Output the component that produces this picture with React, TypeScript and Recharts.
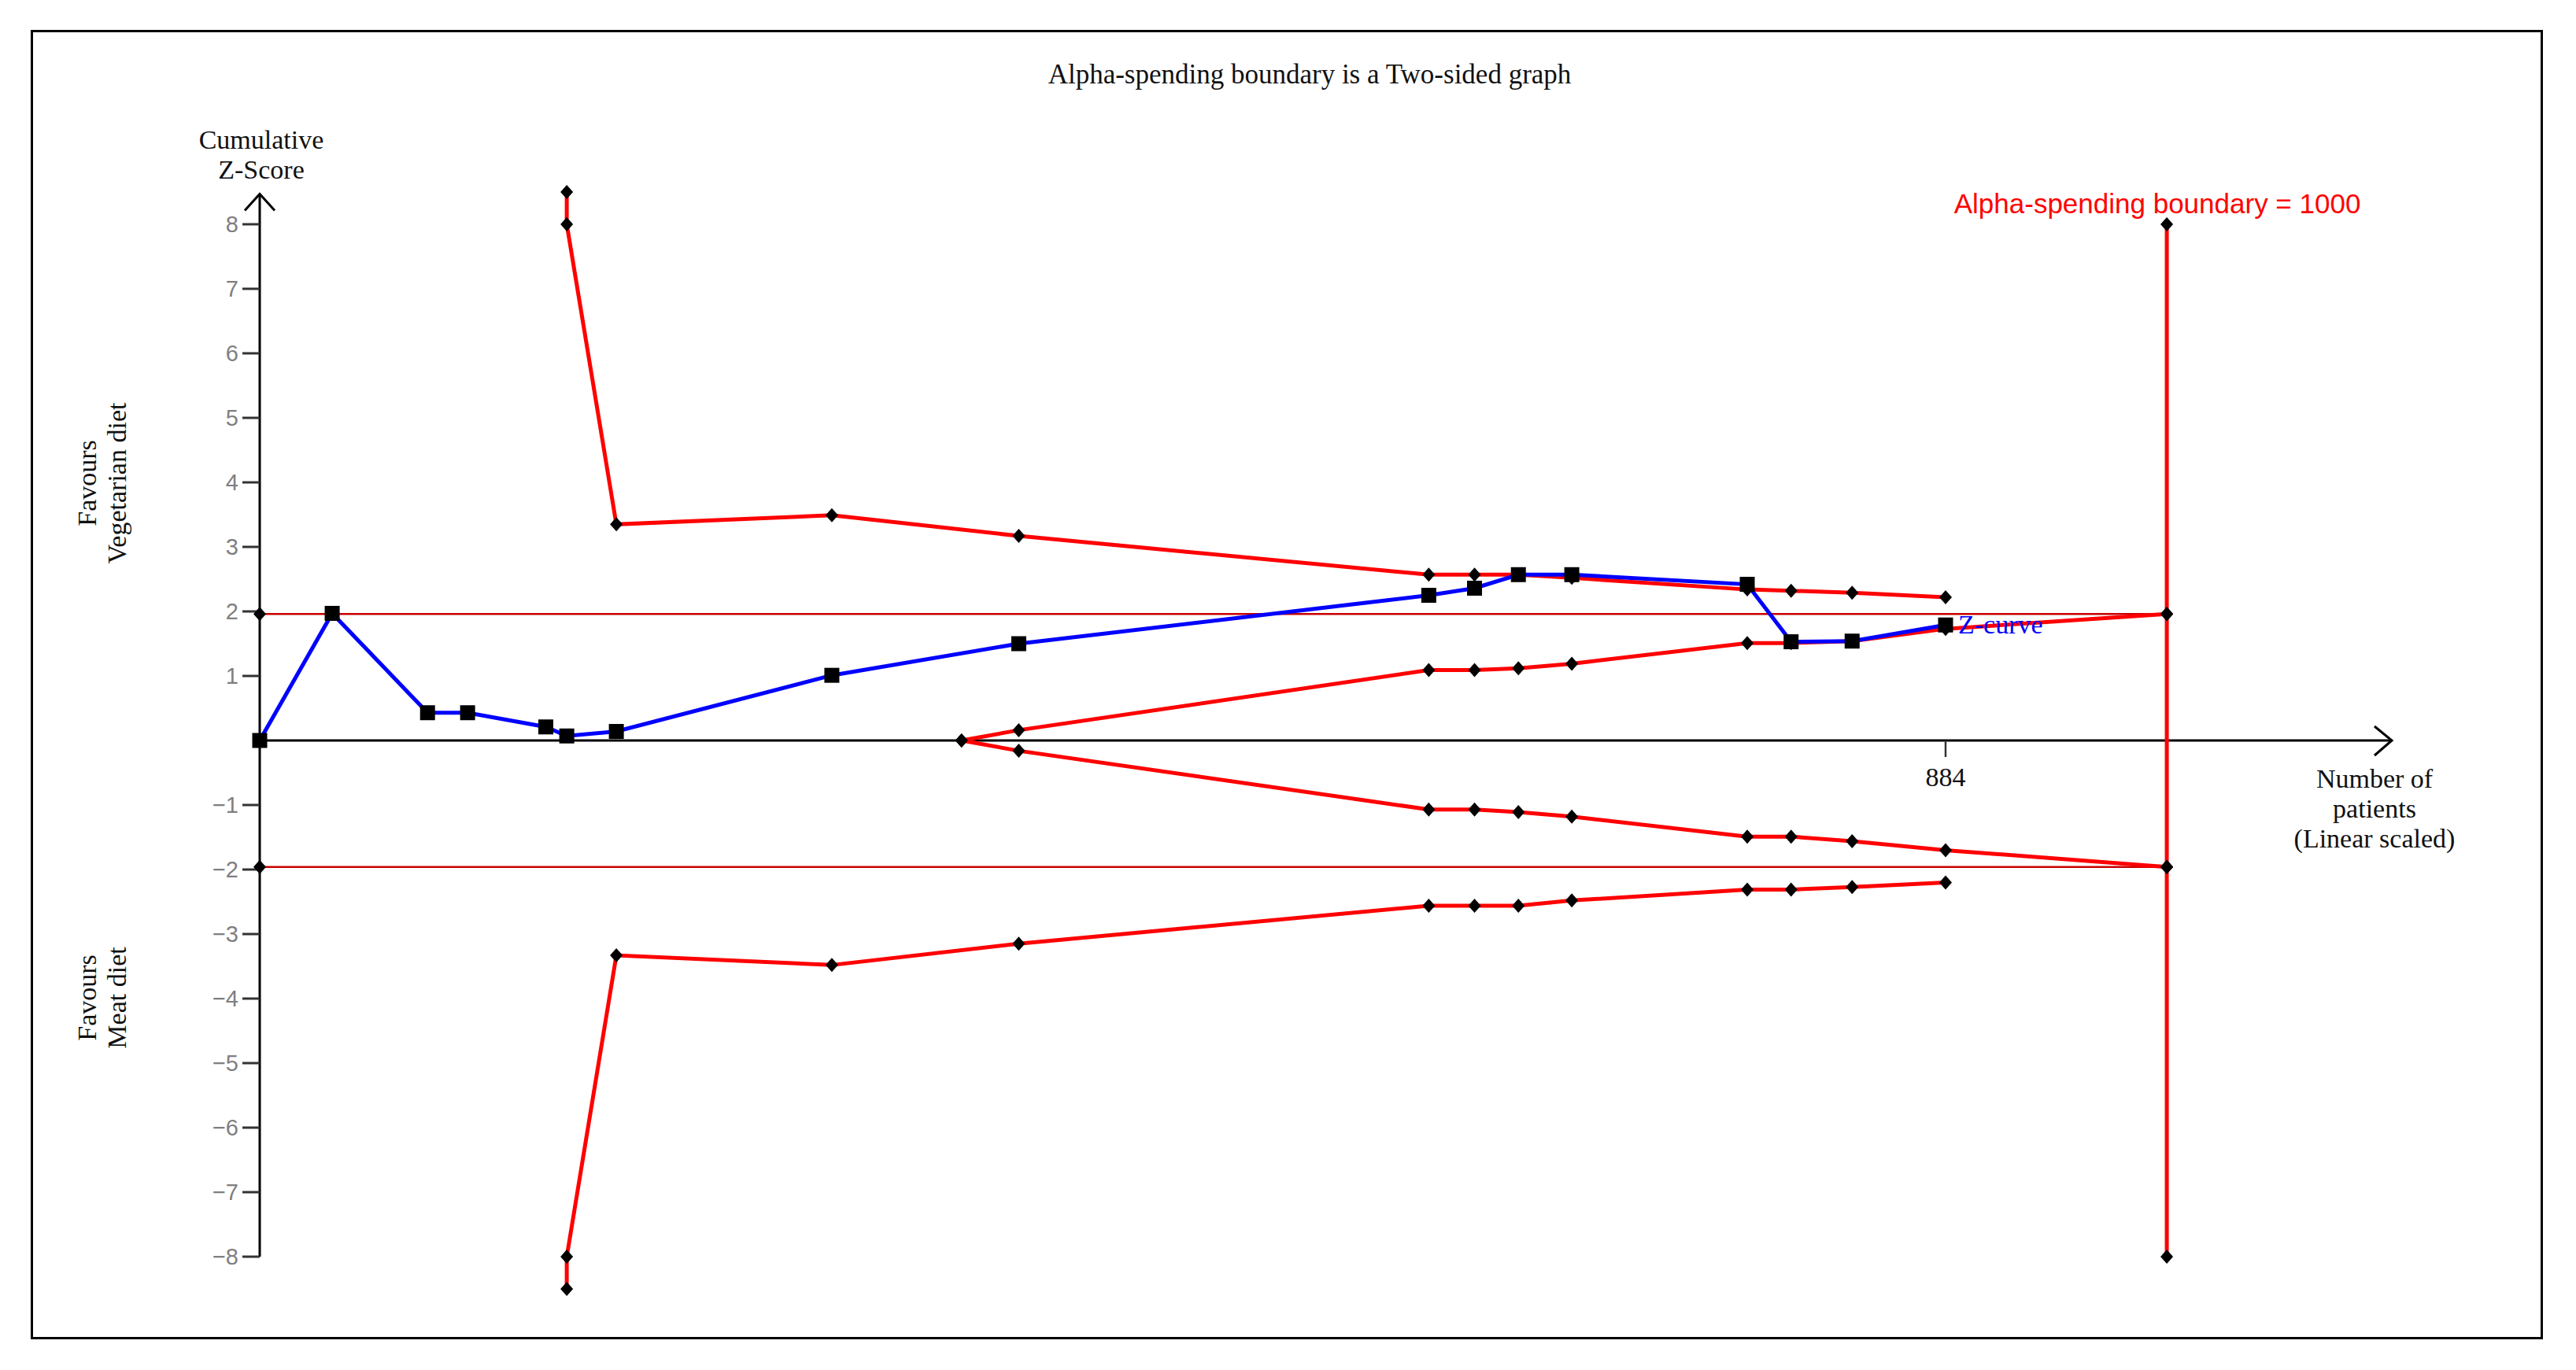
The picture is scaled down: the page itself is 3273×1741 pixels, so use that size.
import { LineChart, Line, XAxis, YAxis, ReferenceLine, ReferenceDot } from 'recharts';

// cumulative number of patients at each trial, and the cumulative Z-score there
const trialN = [0, 38, 88, 109, 150, 161, 187, 300, 398, 613, 637, 660, 688, 780, 803, 835, 884];
const zCurve = [0, 1.97, 0.43, 0.43, 0.21, 0.07, 0.14, 1.01, 1.5, 2.25, 2.36, 2.57, 2.57, 2.42, 1.53, 1.54, 1.79];

// alpha-spending monitoring boundaries (two-sided)
const alphaN = [161, 161, 187, 300, 398, 613, 637, 660, 688, 780, 803, 835, 884];
const alphaUpper = [8.5, 8.0, 3.35, 3.49, 3.17, 2.57, 2.57, 2.57, 2.52, 2.34, 2.32, 2.29, 2.22];
const alphaLower = [-8.5, -8.0, -3.33, -3.48, -3.15, -2.56, -2.56, -2.56, -2.48, -2.31, -2.31, -2.27, -2.2];

// inner wedge boundaries
const innerN = [368, 398, 613, 637, 660, 688, 780, 803, 835, 884, 1000];
const innerUpper = [0, 0.16, 1.09, 1.09, 1.12, 1.19, 1.51, 1.51, 1.54, 1.73, 1.96];
const innerLower = [0, -0.16, -1.07, -1.07, -1.11, -1.18, -1.49, -1.49, -1.56, -1.7, -1.96];

// conventional boundaries
const conventionalN = [0, 1000];
const conventionalZ = 1.96;

// required information size line
const risN = 1000;
const risZ = [8, 1.96, -1.96, -8];

const yTicks = [-8, -7, -6, -5, -4, -3, -2, -1, 1, 2, 3, 4, 5, 6, 7, 8];
const xTicks = [884];
const xMax = 1118;
const yAxisTop = 8.47;

const toPoints = (xs: number[], ys: number[]) => xs.map((x, i) => ({ x, z: ys[i] }));

const zData = toPoints(trialN, zCurve);
const upperData = toPoints(alphaN, alphaUpper);
const lowerData = toPoints(alphaN, alphaLower);
const innerUpperData = toPoints(innerN, innerUpper);
const innerLowerData = toPoints(innerN, innerLower);
const convUpperData = conventionalN.map((x) => ({ x, z: conventionalZ }));
const convLowerData = conventionalN.map((x) => ({ x, z: -conventionalZ }));
const risData = risZ.map((z) => ({ x: risN, z }));

const serif = '"Liberation Serif", "Times New Roman", serif';
const sans = '"Liberation Sans", Arial, sans-serif';

const diamondPath = (cx: number, cy: number) =>
  `M${cx},${cy - 9}L${cx + 8},${cy}L${cx},${cy + 9}L${cx - 8},${cy}Z`;

const Diamond = (props: any) => {
  const { cx, cy, index } = props;
  if (cx == null || cy == null) return null;
  return <path key={`diamond-${index}`} d={diamondPath(cx, cy)} fill="#000" />;
};

const ZSquare = (props: any) => {
  const { cx, cy, index } = props;
  if (cx == null || cy == null) return null;
  return (
    <g key={`square-${index}`}>
      <rect x={cx - 9.5} y={cy - 9.5} width={19} height={19} fill="#000" />
      {index === zCurve.length - 1 && (
        <text x={cx + 16} y={cy + 11} fill="#0000ff" fontFamily={serif} fontSize={34}>
          Z-curve
        </text>
      )}
    </g>
  );
};

const RisDot = (props: any) => {
  const { cx, cy, index } = props;
  if (cx == null || cy == null) return null;
  return (
    <g key={`ris-${index}`}>
      <path d={diamondPath(cx, cy)} fill="#000" />
      {index === 0 && (
        <text x={cx - 12} y={cy - 14} textAnchor="middle" fill="#ff0000" fontFamily={sans} fontSize={35}>
          Alpha-spending boundary = {risN}
        </text>
      )}
    </g>
  );
};

const XAxisArrow = (props: any) => {
  const { x1, y1, x2, y2 } = props;
  return (
    <g>
      <line x1={x1} y1={y1} x2={x2} y2={y2} stroke="#000" strokeWidth={3} />
      <polyline
        points={`${x2 - 22},${y2 - 18} ${x2},${y2} ${x2 - 22},${y2 + 19}`}
        fill="none"
        stroke="#000"
        strokeWidth={3}
      />
    </g>
  );
};

const YAxisArrow = (props: any) => {
  const { x1, y1, x2, y2 } = props;
  const topY = Math.min(y1, y2);
  return (
    <g>
      <line x1={x1} y1={y1} x2={x2} y2={y2} stroke="#000" strokeWidth={3} />
      <polyline
        points={`${x2 - 19},${topY + 21} ${x2},${topY} ${x2 + 19},${topY + 21}`}
        fill="none"
        stroke="#000"
        strokeWidth={3}
      />
    </g>
  );
};

const XTickMark = (props: any) => {
  const { cx, cy, value } = props;
  return (
    <g>
      <line x1={cx} y1={cy} x2={cx} y2={cy + 21} stroke="#333" strokeWidth={2.5} />
      <text x={cx} y={cy + 58} textAnchor="middle" fill="#111" fontFamily={serif} fontSize={34}>
        {value}
      </text>
    </g>
  );
};

const formatTick = (v: number) => (v < 0 ? `\u2212${-v}` : `${v}`);

export default function App() {
  return (
    <div style={{ position: 'absolute', left: 0, top: 0, width: 3273, height: 1741, background: '#fff' }}>
      <div
        style={{
          position: 'absolute',
          left: 39,
          top: 38,
          width: 3192,
          height: 1664,
          border: '3px solid #000',
          boxSizing: 'border-box',
        }}
      />
      <div style={{ position: 'absolute', left: 0, top: 0 }}>
        <LineChart width={3273} height={1741} margin={{ top: 203, right: 234, bottom: 62, left: 230 }}>
          <XAxis type="number" dataKey="x" domain={[0, xMax]} hide />
          <YAxis
            type="number"
            domain={[-9, 9]}
            ticks={yTicks}
            interval={0}
            width={100}
            axisLine={false}
            tickSize={22}
            tickMargin={5}
            tickLine={{ stroke: '#333', strokeWidth: 3 }}
            tick={{ fill: '#7f7f7f', fontSize: 29, fontFamily: sans }}
            tickFormatter={formatTick}
          />
          <ReferenceLine
            segment={[{ x: 0, y: 0 }, { x: xMax, y: 0 }]}
            ifOverflow="visible"
            shape={XAxisArrow}
          />
          <ReferenceLine
            segment={[{ x: 0, y: -8 }, { x: 0, y: yAxisTop }]}
            ifOverflow="visible"
            shape={YAxisArrow}
          />
          {xTicks.map((t) => (
            <ReferenceDot key={t} x={t} y={0} ifOverflow="visible" shape={(p: any) => <XTickMark {...p} value={t} />} />
          ))}
          <Line data={convUpperData} dataKey="z" type="linear" stroke="#c80000" strokeWidth={2.5} dot={Diamond} activeDot={false} isAnimationActive={false} />
          <Line data={convLowerData} dataKey="z" type="linear" stroke="#c80000" strokeWidth={2.5} dot={Diamond} activeDot={false} isAnimationActive={false} />
          <Line data={upperData} dataKey="z" type="linear" stroke="#ff0000" strokeWidth={5} dot={Diamond} activeDot={false} isAnimationActive={false} />
          <Line data={lowerData} dataKey="z" type="linear" stroke="#ff0000" strokeWidth={5} dot={Diamond} activeDot={false} isAnimationActive={false} />
          <Line data={innerUpperData} dataKey="z" type="linear" stroke="#ff0000" strokeWidth={5} dot={Diamond} activeDot={false} isAnimationActive={false} />
          <Line data={innerLowerData} dataKey="z" type="linear" stroke="#ff0000" strokeWidth={5} dot={Diamond} activeDot={false} isAnimationActive={false} />
          <Line data={risData} dataKey="z" type="linear" stroke="#ff0000" strokeWidth={5} dot={RisDot} activeDot={false} isAnimationActive={false} />
          <Line data={zData} dataKey="z" type="linear" stroke="#0000ff" strokeWidth={5} dot={ZSquare} activeDot={false} isAnimationActive={false} />
        </LineChart>
      </div>
      <svg
        width={3273}
        height={1741}
        style={{ position: 'absolute', left: 0, top: 0, pointerEvents: 'none' }}
        fontFamily={serif}
        fontSize={34}
        fill="#111"
      >
        <text x={1664} y={106} textAnchor="middle" fontSize={35}>Alpha-spending boundary is a Two-sided graph</text>
        <text x={332} y={189} textAnchor="middle">Cumulative</text>
        <text x={332} y={227} textAnchor="middle">Z-Score</text>
        <text transform="translate(122,614) rotate(-90)" textAnchor="middle">Favours</text>
        <text transform="translate(160,614) rotate(-90)" textAnchor="middle">Vegetarian diet</text>
        <text transform="translate(122,1268) rotate(-90)" textAnchor="middle">Favours</text>
        <text transform="translate(160,1268) rotate(-90)" textAnchor="middle">Meat diet</text>
        <text x={3017} y={1001} textAnchor="middle">Number of</text>
        <text x={3017} y={1039} textAnchor="middle">patients</text>
        <text x={3017} y={1077} textAnchor="middle">(Linear scaled)</text>
      </svg>
    </div>
  );
}
